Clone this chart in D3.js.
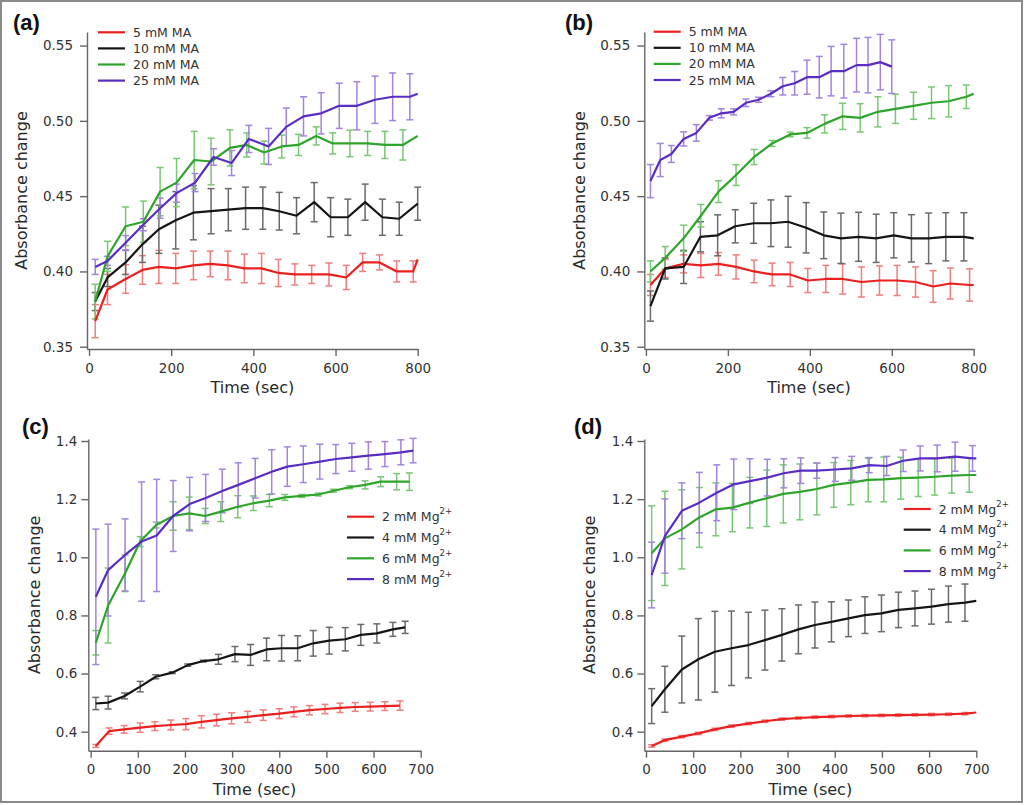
<!DOCTYPE html>
<html>
<head>
<meta charset="utf-8">
<title>Absorbance change</title>
<script src="https://cdn.jsdelivr.net/npm/d3@7"></script>
<style>
    html, body {
        margin: 0px;
        padding: 0px;
        background: #fff;
    }
    svg { display: block; }
</style>
</head>
<body>
<svg id="fig" width="1024" height="805"></svg>
<script>
// ---- panel (a): MA concentration series ----
var tA5 = [15, 45, 89, 130, 170, 211, 254, 295, 338, 378, 420, 461, 501, 542, 584, 626, 666, 707, 749, 789, 800];
var vA5 = [0.367, 0.388, 0.395, 0.401, 0.403, 0.402, 0.404, 0.405, 0.404, 0.402, 0.402, 0.399, 0.398, 0.398, 0.398, 0.396, 0.406, 0.406, 0.400, 0.400, 0.408];
var eA5 = [0.011, 0.010, 0.0095, 0.0095, 0.011, 0.010, 0.0095, 0.0085, 0.0095, 0.0095, 0.010, 0.009, 0.007, 0.006, 0.0076, 0.008, 0.006, 0.005, 0.007, 0.007, 0];

var tA10 = [15, 45, 89, 130, 170, 211, 254, 297, 339, 381, 423, 463, 505, 548, 588, 630, 672, 714, 755, 800];
var vA10 = [0.380, 0.396, 0.406, 0.418, 0.428, 0.434, 0.439, 0.440, 0.441, 0.442, 0.442, 0.440, 0.437, 0.446, 0.436, 0.436, 0.446, 0.436, 0.435, 0.445];
var eA10 = [0.006, 0.006, 0.008, 0.012, 0.016, 0.019, 0.018, 0.015, 0.014, 0.014, 0.014, 0.0125, 0.012, 0.013, 0.013, 0.012, 0.012, 0.012, 0.011, 0.011];

var tA20 = [15, 45, 89, 132, 173, 213, 256, 297, 343, 384, 426, 469, 510, 553, 593, 635, 678, 720, 764, 800];
var vA20 = [0.380, 0.410, 0.430, 0.433, 0.453, 0.459, 0.474, 0.473, 0.482, 0.484, 0.479, 0.483, 0.484, 0.490, 0.485, 0.485, 0.485, 0.484, 0.484, 0.490];
var eA20 = [0.0115, 0.010, 0.0128, 0.0137, 0.016, 0.016, 0.019, 0.0155, 0.012, 0.008, 0.0076, 0.0076, 0.007, 0.006, 0.007, 0.0088, 0.008, 0.009, 0.010, 0];

var tA25 = [15, 45, 89, 132, 173, 213, 258, 303, 347, 389, 437, 480, 522, 565, 609, 652, 696, 739, 781, 800];
var vA25 = [0.403, 0.407, 0.419, 0.431, 0.442, 0.452, 0.459, 0.476, 0.472, 0.488, 0.483, 0.496, 0.503, 0.505, 0.510, 0.510, 0.514, 0.516, 0.516, 0.518];
var eA25 = [0.005, 0.003, 0.0048, 0.004, 0.0067, 0.006, 0.006, 0.0055, 0.0083, 0.009, 0.012, 0.0125, 0.013, 0.0137, 0.015, 0.016, 0.0157, 0.0158, 0.0153, 0];

// ---- panel (b) ----
var tB5 = [11, 47, 92, 134, 177, 220, 264, 308, 352, 395, 439, 480, 526, 570, 613, 658, 701, 743, 790, 800];
var vB5 = [0.391, 0.402, 0.405, 0.404, 0.405, 0.403, 0.400, 0.398, 0.398, 0.394, 0.395, 0.395, 0.393, 0.394, 0.394, 0.393, 0.390, 0.392, 0.391, 0.391];
var eB5 = [0.007, 0.006, 0.006, 0.008, 0.0075, 0.008, 0.0075, 0.0075, 0.008, 0.008, 0.009, 0.010, 0.010, 0.0097, 0.010, 0.010, 0.0105, 0.0103, 0.0107, 0];

var tB10 = [11, 47, 92, 133, 175, 218, 263, 305, 347, 391, 434, 476, 519, 562, 605, 648, 690, 732, 776, 800];
var vB10 = [0.377, 0.402, 0.403, 0.423, 0.424, 0.430, 0.432, 0.432, 0.433, 0.429, 0.424, 0.422, 0.423, 0.422, 0.424, 0.422, 0.422, 0.423, 0.423, 0.422];
var eB10 = [0.010, 0.007, 0.011, 0.010, 0.0136, 0.011, 0.0133, 0.0155, 0.0169, 0.0167, 0.0155, 0.0167, 0.0163, 0.016, 0.015, 0.0157, 0.0168, 0.016, 0.016, 0];

var tB20 = [11, 47, 92, 134, 177, 220, 264, 308, 352, 393, 436, 480, 523, 566, 609, 653, 697, 739, 782, 800];
var vB20 = [0.400, 0.409, 0.422, 0.437, 0.453, 0.464, 0.476, 0.485, 0.491, 0.492, 0.498, 0.503, 0.502, 0.506, 0.508, 0.510, 0.512, 0.513, 0.516, 0.518];
var eB20 = [0.007, 0.0075, 0.0087, 0.0075, 0.0072, 0.0069, 0.005, 0.002, 0.0015, 0.0035, 0.006, 0.0087, 0.0094, 0.010, 0.0097, 0.009, 0.0105, 0.0104, 0.0078, 0];

var tB25 = [11, 35, 62, 92, 123, 155, 184, 214, 244, 275, 305, 334, 363, 393, 423, 452, 483, 514, 542, 572, 600];
var vB25 = [0.460, 0.474, 0.478, 0.488, 0.492, 0.502, 0.505, 0.506, 0.512, 0.514, 0.518, 0.523, 0.525, 0.529, 0.529, 0.533, 0.533, 0.537, 0.537, 0.539, 0.536];
var eB25 = [0.011, 0.011, 0.0056, 0.0047, 0.0055, 0.0015, 0.003, 0.002, 0.0025, 0.0017, 0.002, 0.0058, 0.0078, 0.0113, 0.0138, 0.0164, 0.0178, 0.0178, 0.0184, 0.0184, 0.0178];

// ---- panel (c): Mg2+ series ----
var tC2 = [11, 39, 71, 105, 136, 170, 202, 235, 267, 299, 333, 366, 400, 431, 464, 497, 529, 561, 593, 624, 656];
var vC2 = [0.351, 0.402, 0.408, 0.414, 0.419, 0.423, 0.426, 0.434, 0.440, 0.446, 0.451, 0.457, 0.462, 0.468, 0.474, 0.478, 0.482, 0.485, 0.486, 0.488, 0.490];
var eC2 = [0.005, 0.011, 0.013, 0.016, 0.015, 0.017, 0.019, 0.021, 0.020, 0.019, 0.019, 0.018, 0.017, 0.017, 0.016, 0.016, 0.016, 0.015, 0.015, 0.015, 0.016];

var tC4 = [11, 37, 72, 105, 138, 173, 206, 239, 271, 306, 339, 373, 405, 439, 472, 506, 540, 573, 607, 641, 667];
var vC4 = [0.497, 0.500, 0.523, 0.555, 0.589, 0.603, 0.629, 0.643, 0.649, 0.667, 0.664, 0.683, 0.687, 0.687, 0.704, 0.713, 0.718, 0.733, 0.738, 0.752, 0.759];
var eC4 = [0.021, 0.022, 0.010, 0.018, 0.007, 0.003, 0.004, 0.003, 0.017, 0.026, 0.036, 0.039, 0.044, 0.043, 0.044, 0.046, 0.040, 0.036, 0.033, 0.024, 0.021];

var tC6 = [11, 37, 73, 105, 139, 175, 209, 243, 276, 312, 345, 379, 412, 448, 483, 515, 549, 582, 615, 649, 676];
var vC6 = [0.706, 0.834, 0.945, 1.054, 1.111, 1.142, 1.151, 1.142, 1.157, 1.174, 1.186, 1.195, 1.206, 1.211, 1.216, 1.229, 1.241, 1.249, 1.260, 1.260, 1.260];
var eC6 = [0.042, 0.129, 0.063, 0.017, 0.010, 0.049, 0.056, 0.026, 0.034, 0.038, 0.025, 0.021, 0.010, 0.005, 0.005, 0.005, 0.005, 0.014, 0.017, 0.028, 0.030];

var tC8 = [11, 37, 73, 108, 140, 175, 210, 244, 279, 313, 349, 384, 417, 451, 486, 520, 554, 589, 624, 658, 684];
var vC8 = [0.864, 0.956, 1.008, 1.054, 1.075, 1.142, 1.183, 1.204, 1.228, 1.249, 1.272, 1.294, 1.312, 1.320, 1.329, 1.338, 1.344, 1.350, 1.355, 1.361, 1.367];
var eC8 = [0.233, 0.158, 0.124, 0.205, 0.193, 0.122, 0.092, 0.081, 0.075, 0.076, 0.068, 0.076, 0.068, 0.063, 0.060, 0.050, 0.048, 0.047, 0.043, 0.043, 0.042];

// ---- panel (d) ----
var tD2 = [12, 40, 76, 111, 146, 181, 217, 252, 288, 323, 358, 393, 429, 464, 499, 535, 570, 605, 641, 676, 700];
var vD2 = [0.351, 0.371, 0.383, 0.394, 0.408, 0.419, 0.428, 0.436, 0.443, 0.447, 0.450, 0.452, 0.454, 0.455, 0.456, 0.457, 0.458, 0.459, 0.460, 0.462, 0.466];
var eD2 = [0.004, 0.004, 0.004, 0.004, 0.004, 0.004, 0.004, 0.004, 0.004, 0.004, 0.004, 0.004, 0.004, 0.004, 0.004, 0.004, 0.004, 0.004, 0.004, 0.004, 0];

var tD4 = [12, 40, 76, 111, 146, 181, 217, 252, 288, 323, 358, 393, 429, 464, 499, 535, 570, 605, 641, 676, 700];
var vD4 = [0.488, 0.546, 0.614, 0.649, 0.675, 0.687, 0.698, 0.715, 0.733, 0.752, 0.767, 0.778, 0.790, 0.801, 0.807, 0.819, 0.824, 0.830, 0.839, 0.844, 0.850];
var eD4 = [0.060, 0.079, 0.115, 0.140, 0.139, 0.128, 0.113, 0.103, 0.090, 0.084, 0.079, 0.069, 0.063, 0.063, 0.063, 0.061, 0.060, 0.060, 0.062, 0.064, 0];

var tD6 = [12, 40, 76, 113, 148, 183, 220, 256, 291, 326, 362, 398, 434, 471, 504, 540, 577, 612, 648, 685, 700];
var vD6 = [1.014, 1.065, 1.096, 1.137, 1.165, 1.171, 1.188, 1.203, 1.218, 1.225, 1.235, 1.249, 1.257, 1.266, 1.268, 1.272, 1.274, 1.277, 1.281, 1.283, 1.283];
var eD6 = [0.163, 0.162, 0.136, 0.103, 0.091, 0.083, 0.087, 0.097, 0.100, 0.096, 0.089, 0.077, 0.076, 0.075, 0.077, 0.072, 0.065, 0.063, 0.060, 0.059, 0];

var tD8 = [12, 40, 76, 113, 150, 186, 220, 257, 292, 328, 362, 401, 436, 473, 510, 545, 581, 617, 655, 692, 700];
var vD8 = [0.939, 1.073, 1.160, 1.188, 1.222, 1.251, 1.262, 1.274, 1.289, 1.298, 1.298, 1.302, 1.306, 1.317, 1.314, 1.332, 1.340, 1.340, 1.346, 1.340, 1.340];
var eD8 = [0.113, 0.128, 0.096, 0.104, 0.096, 0.087, 0.077, 0.063, 0.050, 0.044, 0.026, 0.041, 0.041, 0.026, 0.033, 0.037, 0.043, 0.046, 0.050, 0.044, 0];

// legend labels and ticks
var maLabels = ['5 mM MA', '10 mM MA', '20 mM MA', '25 mM MA'];
var mgLabels = ['2 mM Mg', '4 mM Mg', '6 mM Mg', '8 mM Mg'];
var maYTicks = [0.35, 0.40, 0.45, 0.50, 0.55];
var maXTicks = [0, 200, 400, 600, 800];
var mgYTicks = [0.4, 0.6, 0.8, 1.0, 1.2, 1.4];
var mgXTicks = [0, 100, 200, 300, 400, 500, 600, 700];

var lineColors = ['#ec1f1f', '#151515', '#2ea52a', '#5a2dc2'];
var barColors = ['#f07e7e', '#6a6a6a', '#78c874', '#a385de'];

var font = '"DejaVu Sans", Verdana, sans-serif';
var svg = d3.select('#fig');

svg.append('rect')
    .attr('x', 1).attr('y', 1)
    .attr('width', 1021).attr('height', 801)
    .attr('fill', '#fff')
    .attr('stroke', '#8a8a8a')
    .attr('stroke-width', 2);

function zipSeries(t, v, e) {
    return t.map(function(d, i) { return {t: d, v: v[i], e: e[i]}; });
}

var panels = [
    {label: '(a)', lx: 13, ly: 30,
     xDomain: [-5, 800], xRange: [87, 417.7], yDomain: [0.3485, 0.559], yRange: [349, 32],
     xTicks: maXTicks, yTicks: maYTicks, yFmt: d3.format('.2f'), yPad: 7, yTitleOff: 60,
     legend: {x: 98, y: 32.3, dy: 16.1, names: maLabels, sup: null},
     series: [zipSeries(tA5, vA5, eA5), zipSeries(tA10, vA10, eA10), zipSeries(tA20, vA20, eA20), zipSeries(tA25, vA25, eA25)]},
    {label: '(b)', lx: 565, ly: 30,
     xDomain: [-4, 800], xRange: [644.3, 973.7], yDomain: [0.3485, 0.559], yRange: [349, 32],
     xTicks: maXTicks, yTicks: maYTicks, yFmt: d3.format('.2f'), yPad: 7, yTitleOff: 59,
     legend: {x: 653.7, y: 31.7, dy: 16.1, names: maLabels, sup: null},
     series: [zipSeries(tB5, vB5, eB5), zipSeries(tB10, vB10, eB10), zipSeries(tB20, vB20, eB20), zipSeries(tB25, vB25, eB25)]},
    {label: '(c)', lx: 22, ly: 434,
     xDomain: [-5, 700], xRange: [88.3, 420.7], yDomain: [0.3346, 1.4069], yRange: [750.7, 439],
     xTicks: mgXTicks, yTicks: mgYTicks, yFmt: d3.format('.1f'), yPad: 4, yTitleOff: 48,
     legend: {x: 347, y: 516.7, dy: 20.8, names: mgLabels, sup: '2+'},
     series: [zipSeries(tC2, vC2, eC2), zipSeries(tC4, vC4, eC4), zipSeries(tC6, vC6, eC6), zipSeries(tC8, vC8, eC8)]},
    {label: '(d)', lx: 574, ly: 434,
     xDomain: [-3.6, 700], xRange: [644.3, 976.3], yDomain: [0.3346, 1.4069], yRange: [750.7, 439],
     xTicks: mgXTicks, yTicks: mgYTicks, yFmt: d3.format('.1f'), yPad: 4, yTitleOff: 49,
     legend: {x: 903.7, y: 509, dy: 20.7, names: mgLabels, sup: '2+'},
     series: [zipSeries(tD2, vD2, eD2), zipSeries(tD4, vD4, eD4), zipSeries(tD6, vD6, eD6), zipSeries(tD8, vD8, eD8)]}
];

function styleAxis(sel) {
    sel.attr('font-family', font).attr('font-size', 13.5);
    sel.select('.domain').attr('stroke', '#666').attr('stroke-width', 1.4);
    sel.selectAll('.tick line').attr('stroke', '#666').attr('stroke-width', 1.4);
    sel.selectAll('.tick text').attr('fill', '#333');
}

function drawPanel(p) {
    var x = d3.scaleLinear().domain(p.xDomain).range(p.xRange);
    var y = d3.scaleLinear().domain(p.yDomain).range(p.yRange);
    var g = svg.append('g');

    var yAxis = d3.axisLeft(y).tickValues(p.yTicks).tickFormat(p.yFmt)
        .tickSizeInner(7).tickSizeOuter(0).tickPadding(p.yPad);
    var xAxis = d3.axisBottom(x).tickValues(p.xTicks).tickFormat(d3.format('d'))
        .tickSizeInner(7).tickSizeOuter(0).tickPadding(7);

    g.append('g').attr('transform', 'translate(' + p.xRange[0] + ',0)').call(yAxis).call(styleAxis);
    g.append('g').attr('transform', 'translate(0,' + p.yRange[0] + ')').call(xAxis).call(styleAxis);

    // axis titles
    g.append('text')
        .attr('x', (p.xRange[0] + p.xRange[1]) / 2)
        .attr('y', p.yRange[0] + 44)
        .attr('text-anchor', 'middle')
        .attr('font-family', font).attr('font-size', 16).attr('fill', '#2a2a2a')
        .text('Time (sec)');
    g.append('text')
        .attr('transform', 'translate(' + (p.xRange[0] - p.yTitleOff) + ',' + ((p.yRange[0] + p.yRange[1]) / 2) + ') rotate(-90)')
        .attr('text-anchor', 'middle')
        .attr('font-family', font).attr('font-size', 16).attr('fill', '#2a2a2a')
        .text('Absorbance change');

    // panel label
    g.append('text')
        .attr('x', p.lx).attr('y', p.ly)
        .attr('font-family', '"Liberation Sans", Arial, sans-serif')
        .attr('font-weight', 'bold').attr('font-size', 22).attr('fill', '#111')
        .text(p.label);

    // error bars first, then lines on top
    p.series.forEach(function(s, i) {
        var bars = g.append('g')
            .attr('stroke', barColors[i]).attr('stroke-width', 1.5).attr('fill', 'none');
        s.filter(function(d) { return d.e > 0; }).forEach(function(d) {
            var cx = x(d.t), y1 = y(d.v - d.e), y2 = y(d.v + d.e);
            bars.append('line').attr('x1', cx).attr('x2', cx).attr('y1', y1).attr('y2', y2);
            bars.append('line').attr('x1', cx - 3.5).attr('x2', cx + 3.5).attr('y1', y1).attr('y2', y1);
            bars.append('line').attr('x1', cx - 3.5).attr('x2', cx + 3.5).attr('y1', y2).attr('y2', y2);
        });
    });

    var line = d3.line()
        .x(function(d) { return x(d.t); })
        .y(function(d) { return y(d.v); });

    p.series.forEach(function(s, i) {
        g.append('path')
            .datum(s)
            .attr('d', line)
            .attr('fill', 'none')
            .attr('stroke', lineColors[i])
            .attr('stroke-width', 2.2)
            .attr('stroke-linejoin', 'round');
    });

    // legend
    var lg = g.append('g');
    p.legend.names.forEach(function(name, i) {
        var ly = p.legend.y + i * p.legend.dy;
        lg.append('line')
            .attr('x1', p.legend.x).attr('x2', p.legend.x + 27)
            .attr('y1', ly).attr('y2', ly)
            .attr('stroke', lineColors[i]).attr('stroke-width', 2.2);
        var t = lg.append('text')
            .attr('x', p.legend.x + 35).attr('y', ly + 4.5)
            .attr('font-family', font).attr('font-size', 12.5).attr('fill', '#333')
            .text(name);
        if (p.legend.sup) {
            t.append('tspan').attr('dy', -7).attr('font-size', 8.5).text(p.legend.sup);
        }
    });
}

panels.forEach(drawPanel);
</script>
</body>
</html>
